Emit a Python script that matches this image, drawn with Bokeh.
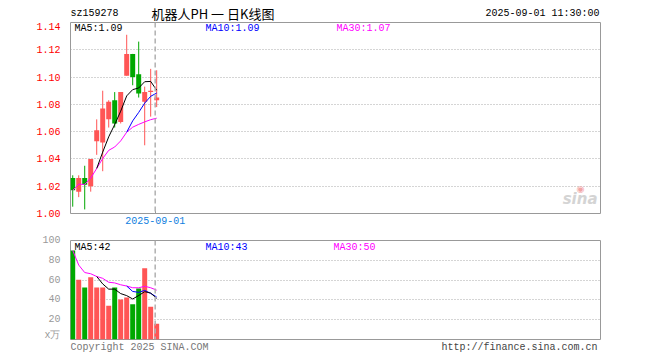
from bokeh.plotting import figure
from bokeh.layouts import column
from bokeh.models import Range1d, FixedTicker, Label, Span
from bokeh.embed import file_html
from bokeh.resources import INLINE
import pandas as pd

# ---------------- data ----------------
symbol = "sz159278"
title_text = "机器人PH 一 日K线图"
stamp = "2025-09-01 11:30:00"
opens  = [1.026, 1.016, 1.026, 1.020, 1.053, 1.052, 1.069, 1.083, 1.067, 1.101, 1.117, 1.102, 1.082, 1.089, 1.083]
highs  = [1.028, 1.028, 1.035, 1.040, 1.069, 1.090, 1.083, 1.089, 1.089, 1.131, 1.117, 1.126, 1.093, 1.106, 1.105]
lows   = [1.005, 1.012, 1.003, 1.016, 1.043, 1.031, 1.063, 1.063, 1.066, 1.101, 1.094, 1.085, 1.050, 1.071, 1.078]
closes = [1.017, 1.026, 1.021, 1.040, 1.061, 1.077, 1.082, 1.066, 1.089, 1.117, 1.100, 1.088, 1.089, 1.090, 1.085]
volumes = [90.0, 60.4, 52.5, 62.8, 52.5, 52.5, 34.0, 52.5, 40.3, 42.3, 35.5, 51.5, 72.0, 33.0, 15.8]
price_ticks = [1.00, 1.02, 1.04, 1.06, 1.08, 1.10, 1.12, 1.14]
volume_ticks = [0, 20, 40, 60, 80, 100]
volume_unit = "x万"
month_mark_index = 14
month_mark_label = "2025-09-01"
copyright_text = "Copyright 2025 SINA.COM"
url_text = "http://finance.sina.com.cn"

# ---------------- derived ----------------
idx = list(range(len(closes)))
cl = pd.Series(closes)
vo = pd.Series(volumes)
ma5 = cl.rolling(5).mean()
ma10 = cl.rolling(10).mean()
ma30 = cl.rolling(30, min_periods=1).mean()
vma5 = vo.rolling(5).mean()
vma10 = vo.rolling(10).mean()
vma30 = vo.rolling(30, min_periods=1).mean()

UP = "#ff5555"
DOWN = "#00a800"
colors = [UP if c >= o else DOWN for o, c in zip(opens, closes)]
body_top = [max(o, c) for o, c in zip(opens, closes)]
body_bot = [min(o, c) for o, c in zip(opens, closes)]

MONO = "Liberation Mono"
FRAME = "#999999"
W = 652
mark_x = month_mark_index - 0.25
x_range = Range1d(-0.37, 88.0)


def lab(p, x, y, text, color, size="10px", font=MONO, align="left", baseline="middle", style="normal"):
    p.add_layout(Label(x=x, y=y, x_units="screen", y_units="screen", text=text, text_color=color,
                       text_font=font, text_font_size=size, text_align=align, text_baseline=baseline,
                       text_font_style=style))


def strip(height):
    s = figure(width=W, height=height, x_range=Range1d(0, 1), y_range=Range1d(0, height),
               output_backend="svg", toolbar_location=None, tools="",
               min_border_left=70, min_border_right=52, min_border_top=0, min_border_bottom=0)
    s.axis.visible = False
    s.grid.visible = False
    s.outline_line_color = None
    s.background_fill_color = "white"
    s.border_fill_color = "white"
    return s

# ---------------- header (frame spans x 70..600) ----------------
head = strip(22)
lab(head, 0, 9, symbol, "#000000")
lab(head, 81, 9.5, title_text, "#000000", size="13px", font="Noto Sans CJK SC")
lab(head, 529, 9, stamp, "#000000", align="right")

# ---------------- price panel ----------------
p1 = figure(width=W, height=211, x_range=x_range, y_range=Range1d(price_ticks[0], price_ticks[-1]),
            output_backend="svg", toolbar_location=None, tools="",
            min_border_left=70, min_border_right=52, min_border_top=0, min_border_bottom=20)
p1.outline_line_color = FRAME
p1.outline_line_width = 1
p1.background_fill_color = "white"
p1.border_fill_color = "white"
p1.xgrid.visible = False
p1.ygrid.ticker = FixedTicker(ticks=price_ticks)
p1.ygrid.grid_line_color = "#aaaaaa"
p1.ygrid.grid_line_dash = "1 2"
p1.yaxis.ticker = FixedTicker(ticks=price_ticks)
p1.yaxis.major_label_overrides = {t: f"{t:.2f}" for t in price_ticks}
p1.yaxis.major_label_text_color = "#ff0000"
p1.yaxis.major_label_text_font = MONO
p1.yaxis.major_label_text_font_size = "10px"
p1.yaxis.axis_line_color = None
p1.yaxis.major_tick_line_color = None
p1.yaxis.minor_tick_line_color = None
p1.yaxis.major_label_standoff = 4
p1.xaxis.ticker = FixedTicker(ticks=[mark_x])
p1.xaxis.major_label_overrides = {mark_x: month_mark_label}
p1.xaxis.major_label_text_color = "#1080e0"
p1.xaxis.major_label_text_font = MONO
p1.xaxis.major_label_text_font_size = "10px"
p1.xaxis.axis_line_color = None
p1.xaxis.major_tick_line_color = FRAME
p1.xaxis.major_tick_in = 3
p1.xaxis.major_tick_out = 0
p1.xaxis.minor_tick_line_color = None
p1.xaxis.major_label_standoff = 3

p1.add_layout(Span(location=mark_x, dimension="height", line_color="#b0b0b0", line_dash="5 3", line_width=1.5))
p1.segment(x0=idx, y0=lows, x1=idx, y1=highs, color=colors, line_width=1)
p1.vbar(x=idx, width=0.83, top=body_top, bottom=body_bot, fill_color=colors, line_color=None)
p1.line(idx, ma30, color="#ff00ff", line_width=1)
p1.line(idx, ma10, color="#0000ff", line_width=1)
p1.line(idx, ma5, color="#000000", line_width=1)

lab(p1, 4, 185, f"MA5:{ma5.iloc[-1]:.2f}", "#000000")
lab(p1, 135, 185, f"MA10:{ma10.iloc[-1]:.2f}", "#0000ff")
lab(p1, 266, 185, f"MA30:{ma30.iloc[-1]:.2f}", "#ff00ff")
lab(p1, 510, 25, "◉", "#f2a5a5", size="9px", font="DejaVu Sans", align="center")
lab(p1, 527, 6, "sina", "#d4d4d4", size="15px", font="DejaVu Sans", align="right", baseline="bottom", style="bold italic")

# ---------------- volume panel ----------------
p2 = figure(width=W, height=107, x_range=x_range, y_range=Range1d(volume_ticks[0], volume_ticks[-1]),
            output_backend="svg", toolbar_location=None, tools="",
            min_border_left=70, min_border_right=52, min_border_top=7, min_border_bottom=1)
p2.outline_line_color = FRAME
p2.outline_line_width = 1
p2.background_fill_color = "white"
p2.border_fill_color = "white"
p2.xgrid.visible = False
p2.xaxis.visible = False
p2.ygrid.ticker = FixedTicker(ticks=volume_ticks)
p2.ygrid.grid_line_color = "#aaaaaa"
p2.ygrid.grid_line_dash = "1 2"
p2.yaxis.ticker = FixedTicker(ticks=volume_ticks)
p2.yaxis.major_label_overrides = {volume_ticks[0]: volume_unit}
p2.yaxis.major_label_text_color = "#999999"
p2.yaxis.major_label_text_font = MONO
p2.yaxis.major_label_text_font_size = "10px"
p2.yaxis.axis_line_color = None
p2.yaxis.major_tick_line_color = None
p2.yaxis.minor_tick_line_color = None
p2.yaxis.major_label_standoff = 4

p2.add_layout(Span(location=mark_x, dimension="height", line_color="#b0b0b0", line_dash="5 3", line_width=1.5))
p2.vbar(x=idx, width=0.83, top=volumes, bottom=0, fill_color=colors, line_color=None)
p2.line(idx, vma30, color="#ff00ff", line_width=1)
p2.line(idx, vma10, color="#0000ff", line_width=1)
p2.line(idx, vma5, color="#000000", line_width=1)

lab(p2, 4, 92, f"MA5:{vma5.iloc[-1]:.0f}", "#000000")
lab(p2, 135, 92, f"MA10:{vma10.iloc[-1]:.0f}", "#0000ff")
lab(p2, 263, 92, f"MA30:{vma30.iloc[-1]:.0f}", "#ff00ff")

# ---------------- footer ----------------
foot = strip(14)
lab(foot, 0, 7, copyright_text, "#777777")
lab(foot, 527, 7, url_text, "#444444", align="right")

layout = column(head, p1, p2, foot, spacing=0)
open("out.html", "w").write(file_html(layout, INLINE))
